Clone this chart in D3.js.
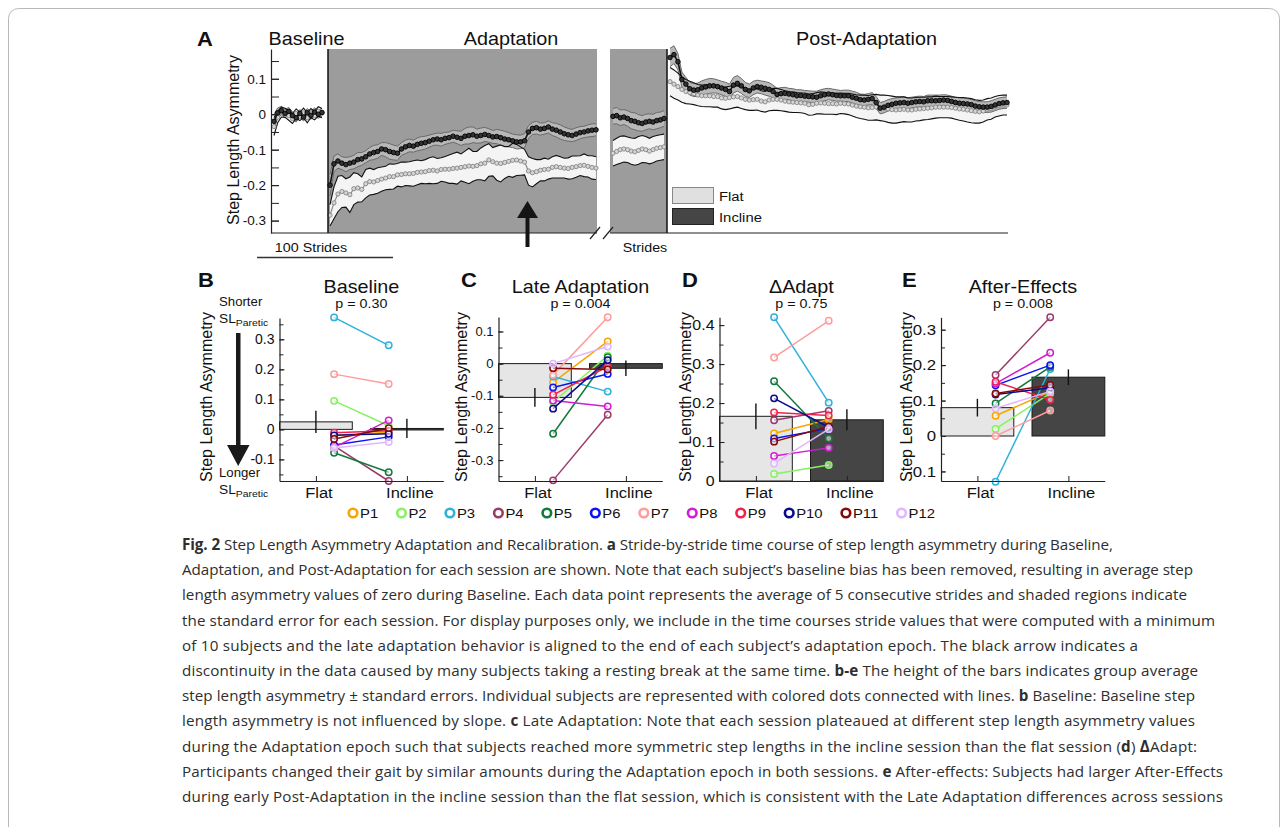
<!DOCTYPE html>
<html><head><meta charset="utf-8">
<script src="https://cdn.jsdelivr.net/npm/d3@7"></script>
<style>
body{margin:0;background:#fff}
svg{display:block}
text{font-family:"Liberation Sans",Arial,Helvetica,sans-serif;fill:#111}
.cap{font-family:"Open Sans","Noto Sans",sans-serif;fill:#2e2e2e}
</style>
</head><body>
<svg id="fig" width="1288" height="827"></svg>
<script>
// ---------------- DATA ----------------
// Panel A time courses (mean and standard error), each point = 5-stride average
const baseInc   = [-0.02,0.004,0.01,0.002,0.008,-0.004,-0.01,0.002,-0.008,0.004,-0.003,0.006,0.0,0.005];
const baseIncSE = [0.02,0.014,0.012,0.012,0.011,0.011,0.012,0.011,0.011,0.012,0.011,0.012,0.011,0.012];
const baseFlat  = [-0.035,-0.008,0.006,0.004,-0.004,-0.012,0.002,-0.006,0.004,-0.01,0.003,-0.004,0.008,0.003];
const baseFlatSE= [0.025,0.016,0.014,0.013,0.013,0.014,0.013,0.012,0.013,0.014,0.013,0.012,0.013,0.013];

const adaptInc = [-0.2,-0.14,-0.132,-0.138,-0.142,-0.138,-0.135,-0.128,-0.126,-0.12,
  -0.112,-0.108,-0.105,-0.098,-0.1,-0.105,-0.108,-0.11,-0.098,-0.092,
  -0.088,-0.09,-0.085,-0.082,-0.08,-0.076,-0.072,-0.07,-0.072,-0.068,
  -0.066,-0.062,-0.065,-0.068,-0.062,-0.06,-0.058,-0.062,-0.06,-0.057,
  -0.06,-0.064,-0.063,-0.066,-0.07,-0.072,-0.075,-0.078,-0.078,-0.075,
  -0.05,-0.04,-0.038,-0.042,-0.04,-0.036,-0.042,-0.045,-0.05,-0.055,
  -0.058,-0.06,-0.056,-0.052,-0.05,-0.047,-0.045,-0.044];
const adaptIncSE = [0.03,0.022,0.02,0.018,0.02,0.018,0.019,0.02,0.018,0.017,
  0.018,0.02,0.019,0.018,0.02,0.022,0.021,0.02,0.018,0.019,
  0.018,0.017,0.018,0.019,0.018,0.017,0.016,0.017,0.018,0.017,
  0.016,0.017,0.018,0.02,0.022,0.024,0.022,0.02,0.021,0.02,
  0.019,0.018,0.02,0.021,0.022,0.02,0.019,0.02,0.019,0.02,
  0.018,0.017,0.018,0.017,0.016,0.017,0.018,0.019,0.02,0.019,
  0.018,0.017,0.018,0.017,0.016,0.017,0.018,0.017];
const adaptFlat = [-0.285,-0.25,-0.225,-0.218,-0.222,-0.227,-0.21,-0.208,-0.212,-0.196,
  -0.19,-0.191,-0.187,-0.183,-0.18,-0.176,-0.176,-0.171,-0.17,-0.168,
  -0.168,-0.167,-0.164,-0.163,-0.162,-0.159,-0.158,-0.16,-0.156,-0.155,
  -0.155,-0.153,-0.152,-0.15,-0.148,-0.146,-0.147,-0.145,-0.14,-0.138,
  -0.129,-0.134,-0.138,-0.139,-0.136,-0.133,-0.13,-0.129,-0.132,-0.135,
  -0.16,-0.165,-0.162,-0.158,-0.156,-0.155,-0.15,-0.148,-0.15,-0.152,
  -0.153,-0.15,-0.148,-0.145,-0.144,-0.147,-0.15,-0.152];
const adaptFlatSE = [0.03,0.045,0.05,0.045,0.04,0.05,0.045,0.04,0.035,0.04,
  0.038,0.035,0.036,0.034,0.033,0.036,0.035,0.032,0.035,0.033,
  0.034,0.036,0.035,0.032,0.034,0.036,0.038,0.035,0.033,0.036,
  0.04,0.042,0.045,0.038,0.044,0.05,0.042,0.04,0.045,0.05,
  0.046,0.04,0.048,0.052,0.045,0.042,0.048,0.044,0.04,0.036,
  0.04,0.04,0.034,0.03,0.032,0.028,0.03,0.032,0.03,0.028,
  0.03,0.032,0.03,0.028,0.032,0.03,0.033,0.032];

const lateInc   = [-0.006,-0.004,-0.01,-0.008,-0.012,-0.018,-0.02,-0.024,-0.026,-0.022,-0.02,-0.022,-0.018,-0.016,-0.012];
const lateIncSE = [0.022,0.023,0.022,0.021,0.022,0.023,0.024,0.023,0.022,0.022,0.021,0.022,0.023,0.022,0.022];
const lateFlat  = [-0.11,-0.105,-0.1,-0.098,-0.1,-0.104,-0.106,-0.102,-0.098,-0.1,-0.104,-0.1,-0.096,-0.094,-0.092];
const lateFlatSE= [0.036,0.037,0.038,0.037,0.036,0.037,0.038,0.039,0.038,0.037,0.036,0.037,0.036,0.036,0.036];

const postInc = [0.16,0.168,0.148,0.098,0.085,0.072,0.068,0.069,0.074,0.077,
  0.08,0.08,0.078,0.074,0.07,0.064,0.082,0.087,0.08,0.07,
  0.066,0.074,0.078,0.076,0.073,0.07,0.064,0.056,0.058,0.059,
  0.057,0.055,0.052,0.053,0.051,0.05,0.049,0.048,0.052,0.055,
  0.057,0.055,0.053,0.052,0.052,0.052,0.048,0.045,0.041,0.04,
  0.042,0.044,0.033,0.017,0.02,0.025,0.028,0.031,0.032,0.033,
  0.031,0.033,0.035,0.036,0.035,0.038,0.038,0.038,0.039,0.04,
  0.039,0.036,0.033,0.031,0.03,0.029,0.027,0.023,0.021,0.02,
  0.02,0.022,0.026,0.03,0.032,0.033];
const postIncSE = [0.026,0.025,0.023,0.021,0.019,0.018,0.018,0.019,0.02,0.021,
  0.021,0.02,0.019,0.019,0.02,0.021,0.022,0.022,0.021,0.02,
  0.019,0.019,0.018,0.018,0.019,0.019,0.018,0.017,0.017,0.017,
  0.016,0.017,0.017,0.016,0.016,0.016,0.016,0.017,0.017,0.017,
  0.016,0.016,0.016,0.015,0.016,0.016,0.017,0.017,0.016,0.016,
  0.016,0.017,0.017,0.016,0.016,0.016,0.016,0.015,0.015,0.016,
  0.016,0.015,0.015,0.015,0.015,0.016,0.016,0.016,0.015,0.015,
  0.015,0.015,0.015,0.015,0.015,0.015,0.015,0.015,0.015,0.015,
  0.015,0.016,0.016,0.016,0.016,0.016];
const postFlat = [0.092,0.085,0.078,0.07,0.064,0.061,0.058,0.054,0.052,0.052,
  0.052,0.05,0.05,0.046,0.045,0.047,0.049,0.05,0.046,0.042,
  0.04,0.041,0.042,0.037,0.035,0.04,0.042,0.042,0.04,0.037,
  0.035,0.034,0.033,0.032,0.031,0.027,0.028,0.031,0.032,0.031,
  0.03,0.03,0.029,0.031,0.03,0.029,0.026,0.023,0.021,0.02,
  0.018,0.019,0.02,0.018,0.017,0.015,0.013,0.012,0.013,0.014,
  0.012,0.012,0.014,0.015,0.016,0.017,0.018,0.02,0.02,0.02,
  0.02,0.019,0.017,0.015,0.014,0.012,0.01,0.008,0.007,0.009,
  0.014,0.016,0.021,0.024,0.026,0.026];
const postFlatSE = [0.04,0.04,0.038,0.036,0.034,0.032,0.031,0.03,0.03,0.031,
  0.031,0.03,0.03,0.031,0.032,0.032,0.031,0.03,0.03,0.029,
  0.029,0.03,0.03,0.029,0.029,0.03,0.031,0.031,0.03,0.029,
  0.029,0.029,0.028,0.028,0.029,0.03,0.03,0.03,0.031,0.031,
  0.03,0.03,0.03,0.029,0.029,0.03,0.031,0.032,0.033,0.034,
  0.035,0.036,0.036,0.036,0.037,0.038,0.038,0.037,0.036,0.035,
  0.034,0.034,0.033,0.033,0.032,0.032,0.031,0.031,0.03,0.03,
  0.03,0.03,0.031,0.032,0.033,0.034,0.034,0.033,0.032,0.031,
  0.03,0.03,0.029,0.029,0.028,0.028];

const aTicks = [-0.3,-0.2,-0.1,0,0.1];

// Panels B-E: participants P1..P12
const participants = ['P1','P2','P3','P4','P5','P6','P7','P8','P9','P10','P11','P12'];
const pColors = ['#f7a600','#86f25e','#2fb1da','#9b3b6d','#137a3c','#0a14f0','#ff9c9c','#d21ed2','#f0204e','#0a0a8c','#840a0a','#e1b6ff'];
const sessions = ['Flat','Incline'];

const blFlat = [-0.02,0.095,0.373,-0.055,-0.078,-0.052,0.184,-0.06,-0.011,-0.02,-0.032,-0.062];
const blInc  = [-0.01,0.012,0.28,-0.172,-0.143,-0.025,0.151,0.03,-0.005,-0.015,0.004,-0.042];
const blMean = [0.025,0.003], blSE = [0.037,0.032], blTicks = [-0.1,0,0.1,0.2,0.3];

const laFlat = [-0.058,-0.12,-0.04,-0.363,-0.218,-0.074,-0.035,-0.115,-0.097,-0.14,-0.014,0.0];
const laInc  = [0.069,0.025,-0.087,-0.159,0.02,-0.032,0.144,-0.133,-0.009,0.011,-0.018,0.053];
const laMean = [-0.105,-0.0145], laSE = [0.029,0.024], laTicks = [-0.3,-0.2,-0.1,0,0.1];

const daFlat = [0.122,0.018,0.42,0.156,0.256,0.109,0.317,0.064,0.176,0.212,0.101,0.045];
const daInc  = [0.158,0.041,0.201,0.18,0.109,0.135,0.411,0.085,0.168,0.138,0.14,0.133];
const daMean = [0.166,0.157], daSE = [0.033,0.027], daTicks = [0,0.1,0.2,0.3,0.4];

const aeFlat = [0.057,0.02,-0.129,0.172,0.092,0.143,0.0,0.148,0.153,0.117,0.12,0.078];
const aeInc  = [0.125,0.12,0.189,0.335,0.195,0.2,0.072,0.235,0.102,0.136,0.144,0.126];
const aeMean = [0.08,0.166], aeSE = [0.025,0.022], aeTicks = [-0.1,0,0.1,0.2,0.3];

const captionLines = [
 [['Fig. 2',1],[' Step Length Asymmetry Adaptation and Recalibration. ',0],['a',1],[' Stride-by-stride time course of step length asymmetry during Baseline,',0]],
 [['Adaptation, and Post-Adaptation for each session are shown. Note that each subject\u2019s baseline bias has been removed, resulting in average step',0]],
 [['length asymmetry values of zero during Baseline. Each data point represents the average of 5 consecutive strides and shaded regions indicate',0]],
 [['the standard error for each session. For display purposes only, we include in the time courses stride values that were computed with a minimum',0]],
 [['of 10 subjects and the late adaptation behavior is aligned to the end of each subject\u2019s adaptation epoch. The black arrow indicates a',0]],
 [['discontinuity in the data caused by many subjects taking a resting break at the same time. ',0],['b-e',1],[' The height of the bars indicates group average',0]],
 [['step length asymmetry \u00b1 standard errors. Individual subjects are represented with colored dots connected with lines. ',0],['b',1],[' Baseline: Baseline step',0]],
 [['length asymmetry is not influenced by slope. ',0],['c',1],[' Late Adaptation: Note that each session plateaued at different step length asymmetry values',0]],
 [['during the Adaptation epoch such that subjects reached more symmetric step lengths in the incline session than the flat session (',0],['d',1],[') ',0],['\u0394',1],['Adapt:',0]],
 [['Participants changed their gait by similar amounts during the Adaptation epoch in both sessions. ',0],['e',1],[' After-effects: Subjects had larger After-Effects',0]],
 [['during early Post-Adaptation in the incline session than the flat session, which is consistent with the Late Adaptation differences across sessions',0]]
];
// layout: right end of each caption line in the reference
const captionEnds = [1113,1193,1187,1215,1138,1198,1195,1195,1197,1223,1223];

// ---------------- DRAWING ----------------
const SX = 1.1;
const svg = d3.select('#fig');
function stxt(parent, x, y, str, size, o = {}) {
  const g = parent.append('g').attr('transform', `translate(${x},${y}) scale(${o.sx ?? SX},1)`);
  const t = g.append('text').attr('text-anchor', o.anchor || 'middle')
    .style('font-size', size + 'px').style('font-weight', o.bold ? 'bold' : 'normal');
  if (str != null) t.text(str);
  return t;
}
const fmt = d => Math.abs(d) < 1e-9 ? '0' : String(Math.round(d * 100) / 100);

// frame
svg.append('rect').attr('x', 8.5).attr('y', 8.5).attr('width', 1271).attr('height', 870).attr('rx', 10)
  .attr('fill', 'none').attr('stroke', '#b8b8b8').attr('stroke-width', 1);

// ===== Panel A =====
const A = svg.append('g');
const yA = d3.scaleLinear().domain([-0.335, 0.184]).range([233, 49]);
const GRAY = '#9c9c9c';
A.append('rect').attr('x', 328).attr('y', 49).attr('width', 269).attr('height', 184).attr('fill', GRAY);
A.append('rect').attr('x', 610).attr('y', 49).attr('width', 57).attr('height', 184).attr('fill', GRAY);

const segs = [
  {inc: baseInc, incSE: baseIncSE, flat: baseFlat, flatSE: baseFlatSE, x0: 274, x1: 322},
  {inc: adaptInc, incSE: adaptIncSE, flat: adaptFlat, flatSE: adaptFlatSE, x0: 330, x1: 596},
  {inc: lateInc, incSE: lateIncSE, flat: lateFlat, flatSE: lateFlatSE, x0: 613, x1: 664},
  {inc: postInc, incSE: postIncSE, flat: postFlat, flatSE: postFlatSE, x0: 670, x1: 1007}
];
const mk = (m, se) => m.map((v, i) => { const s = se[Math.min(i, se.length - 1)]; return {i, m: v, lo: v - s, hi: v + s}; });
segs.forEach(s => {
  const F = mk(s.flat, s.flatSE), I = mk(s.inc, s.incSE);
  const xf = d3.scaleLinear().domain([0, F.length - 1]).range([s.x0, s.x1]);
  const xi = d3.scaleLinear().domain([0, I.length - 1]).range([s.x0, s.x1]);
  const area = xs => d3.area().x(d => xs(d.i)).y0(d => yA(d.lo)).y1(d => yA(d.hi));
  const line = (xs, k) => d3.line().x(d => xs(d.i)).y(d => yA(d[k]));
  A.append('path').attr('d', area(xf)(F)).attr('fill', '#f4f4f4');
  A.append('path').attr('d', area(xi)(I)).attr('fill', '#b8b8b8');
  ['lo', 'hi'].forEach(k => A.append('path').attr('d', line(xi, k)(I)).attr('fill', 'none').attr('stroke', '#6a6a6a').attr('stroke-width', 1));
  ['lo', 'hi'].forEach(k => A.append('path').attr('d', line(xf, k)(F)).attr('fill', 'none').attr('stroke', '#111').attr('stroke-width', 1.1));
  A.append('path').attr('d', line(xf, 'm')(F)).attr('fill', 'none').attr('stroke', '#8a8a8a').attr('stroke-width', 1.2);
  A.append('g').selectAll('circle').data(F).join('circle').attr('cx', d => xf(d.i)).attr('cy', d => yA(d.m)).attr('r', 2.1)
    .attr('fill', '#d6d6d6').attr('stroke', '#858585').attr('stroke-width', 0.9);
  A.append('path').attr('d', line(xi, 'm')(I)).attr('fill', 'none').attr('stroke', '#111').attr('stroke-width', 1.6);
  A.append('g').selectAll('circle').data(I).join('circle').attr('cx', d => xi(d.i)).attr('cy', d => yA(d.m)).attr('r', 2.3)
    .attr('fill', '#333').attr('stroke', '#000').attr('stroke-width', 0.9);
});
// epoch boundaries
[328, 667].forEach(x => A.append('line').attr('x1', x).attr('x2', x).attr('y1', 49).attr('y2', 233).attr('stroke', '#111').attr('stroke-width', 1.5));
// y axis A
const minorA = d3.range(-6, 4).map(k => k * 0.05);
A.append('g').attr('transform', 'translate(271,0)')
  .call(d3.axisLeft(yA).tickValues(minorA).tickSize(-8).tickFormat(''))
  .call(g => g.select('.domain').remove()).selectAll('line').attr('stroke', '#222');
const axA = A.append('g').attr('transform', 'translate(271,0)')
  .call(d3.axisLeft(yA).tickValues(aTicks).tickSizeInner(-8).tickSizeOuter(0).tickPadding(5).tickFormat(fmt));
axA.select('.domain').attr('stroke', '#222').attr('stroke-width', 1.2);
axA.selectAll('line').attr('stroke', '#222');
axA.selectAll('text').style('font-size', '13.5px').attr('fill', '#111');
// x baseline with break
A.append('line').attr('x1', 271).attr('x2', 597).attr('y1', 233).attr('y2', 233).attr('stroke', '#222').attr('stroke-width', 1.2);
A.append('line').attr('x1', 610).attr('x2', 1008).attr('y1', 233).attr('y2', 233).attr('stroke', '#222').attr('stroke-width', 1.2);
[[590, 600], [603, 613]].forEach(([a, b]) => A.append('line').attr('x1', a).attr('y1', 239).attr('x2', b).attr('y2', 227).attr('stroke', '#222').attr('stroke-width', 1.2));
// headings
stxt(A, 306.5, 45, 'Baseline', 18);
stxt(A, 511, 45, 'Adaptation', 18);
stxt(A, 866.5, 45, 'Post-Adaptation', 18);
stxt(A, 197, 46, 'A', 20, {anchor: 'start', bold: true});
A.append('text').attr('transform', 'translate(233,140) rotate(-90)').attr('text-anchor', 'middle')
  .attr('dominant-baseline', 'central').style('font-size', '16px').text('Step Length Asymmetry');
// 100 strides scale bar and strides label
stxt(A, 311, 252, '100 Strides', 13);
A.append('line').attr('x1', 257).attr('x2', 393).attr('y1', 257.5).attr('y2', 257.5).attr('stroke', '#333').attr('stroke-width', 1.5);
stxt(A, 645, 252, 'Strides', 13);
// break arrow
A.append('rect').attr('x', 525.5).attr('y', 216).attr('width', 4).attr('height', 31).attr('fill', '#151515');
A.append('path').attr('d', 'M517,218 L538,218 L527.5,201 Z').attr('fill', '#151515');
// legend A
A.append('rect').attr('x', 672.5).attr('y', 187.5).attr('width', 41).attr('height', 16).attr('fill', '#e0e0e0').attr('stroke', '#888');
A.append('rect').attr('x', 672.5).attr('y', 208.5).attr('width', 41).attr('height', 16).attr('fill', '#454545').attr('stroke', '#222');
stxt(A, 719, 201, sessions[0], 13.5, {anchor: 'start'});
stxt(A, 719, 222, sessions[1], 13.5, {anchor: 'start'});

// ===== Panels B-E =====
const panels = [
  {letter: 'B', lx: 198, title: 'Baseline', p: 'p = 0.30', flat: blFlat, inc: blInc, mean: blMean, se: blSE, ticks: blTicks, dom: [-0.172, 0.371], left: 279.5, top: 318, ylx: 206, tfs: 14, tsx: 1},
  {letter: 'C', lx: 461, title: 'Late Adaptation', p: 'p = 0.004', flat: laFlat, inc: laInc, mean: laMean, se: laSE, ticks: laTicks, dom: [-0.365, 0.145], left: 498.5, top: 317, ylx: 461, tfs: 13, tsx: 1},
  {letter: 'D', lx: 682, title: '\u0394Adapt', p: 'p = 0.75', flat: daFlat, inc: daInc, mean: daMean, se: daSE, ticks: daTicks, dom: [0, 0.42], left: 719.5, top: 317.3, ylx: 685, tfs: 14.5, tsx: 1.1},
  {letter: 'E', lx: 902, title: 'After-Effects', p: 'p = 0.008', flat: aeFlat, inc: aeInc, mean: aeMean, se: aeSE, ticks: aeTicks, dom: [-0.127, 0.335], left: 941, top: 317.3, ylx: 906, tfs: 15, tsx: 1.12}
];
const BOT = 481, UNIT = 91;
panels.forEach(P => {
  const g = svg.append('g');
  const x = d3.scaleLinear().domain([0.6, 2.4]).range([P.left, P.left + 1.8 * UNIT]);
  const y = d3.scaleLinear().domain(P.dom).range([BOT, P.top]);
  const cx = (P.left + P.left + 1.8 * UNIT) / 2;
  const fills = ['#e6e6e6', '#454545'];
  P.mean.forEach((m, k) => {
    g.append('rect').attr('x', x(k + 0.6)).attr('width', x(k + 1.4) - x(k + 0.6))
      .attr('y', Math.min(y(m), y(0))).attr('height', Math.max(1.5, Math.abs(y(m) - y(0))))
      .attr('fill', fills[k]).attr('stroke', '#1a1a1a').attr('stroke-width', 1);
  });
  P.mean.forEach((m, k) => {
    g.append('line').attr('x1', x(k + 1)).attr('x2', x(k + 1)).attr('y1', y(m - P.se[k])).attr('y2', y(m + P.se[k]))
      .attr('stroke', '#111').attr('stroke-width', 1.4);
  });
  participants.forEach((pp, j) => {
    const c = pColors[j];
    g.append('line').attr('x1', x(1.2)).attr('y1', y(P.flat[j])).attr('x2', x(1.8)).attr('y2', y(P.inc[j]))
      .attr('stroke', c).attr('stroke-width', 1.5);
    [[1.2, P.flat[j]], [1.8, P.inc[j]]].forEach(([xx, v]) => g.append('circle').attr('cx', x(xx)).attr('cy', y(v)).attr('r', 3.2)
      .attr('fill', '#fff').attr('fill-opacity', 0.55).attr('stroke', c).attr('stroke-width', 1.5));
  });
  const lo = Math.ceil(P.dom[0] / 0.05 - 1e-9), hi = Math.floor(P.dom[1] / 0.05 + 1e-9);
  const minor = d3.range(lo, hi + 1).map(k => k * 0.05);
  g.append('g').attr('transform', `translate(${P.left},0)`)
    .call(d3.axisLeft(y).tickValues(minor).tickSize(-4).tickFormat(''))
    .call(s => s.select('.domain').remove()).selectAll('line').attr('stroke', '#222');
  const ay = g.append('g').attr('transform', `translate(${P.left},0)`)
    .call(d3.axisLeft(y).tickValues(P.ticks).tickSizeInner(-5).tickSizeOuter(0).tickPadding(5).tickFormat(fmt));
  ay.select('.domain').attr('stroke', '#222').attr('stroke-width', 1.2);
  ay.selectAll('line').attr('stroke', '#222');
  ay.selectAll('text').style('font-size', P.tfs + 'px').attr('fill', '#111')
    .attr('transform', `translate(-5,0) scale(${P.tsx},1) translate(5,0)`);
  const ax = g.append('g').attr('transform', `translate(0,${BOT})`)
    .call(d3.axisBottom(x).tickValues([1, 2]).tickSizeInner(-5).tickSizeOuter(0).tickFormat(''));
  ax.select('.domain').attr('stroke', '#222').attr('stroke-width', 1.2);
  ax.selectAll('line').attr('stroke', '#222');
  sessions.forEach((s, k) => stxt(g, x(k + 1) + 3, 498, s, 15));
  stxt(g, cx, 293, P.title, 18);
  stxt(g, cx, 308, P.p, 13);
  stxt(g, P.lx, 287, P.letter, 20, {anchor: 'start', bold: true});
  g.append('text').attr('transform', `translate(${P.ylx},397) rotate(-90)`).attr('text-anchor', 'middle')
    .attr('dominant-baseline', 'central').style('font-size', '16px').text('Step Length Asymmetry');
});
// Panel B side annotation
const ann = svg.append('g');
stxt(ann, 219, 306, 'Shorter', 12, {anchor: 'start'});
const sl1 = stxt(ann, 219, 323, null, 12.5, {anchor: 'start'});
sl1.append('tspan').text('SL'); sl1.append('tspan').attr('dy', 3).style('font-size', '9.5px').text('Paretic');
stxt(ann, 219, 477, 'Longer', 12, {anchor: 'start'});
const sl2 = stxt(ann, 219, 494, null, 12.5, {anchor: 'start'});
sl2.append('tspan').text('SL'); sl2.append('tspan').attr('dy', 3).style('font-size', '9.5px').text('Paretic');
ann.append('rect').attr('x', 236).attr('y', 333).attr('width', 4.5).attr('height', 114).attr('fill', '#1a1a1a');
ann.append('path').attr('d', 'M227,445 L249.5,445 L238.2,466 Z').attr('fill', '#1a1a1a');

// participant legend
const leg = svg.append('g');
let lxPos = 353;
participants.forEach((pp, j) => {
  leg.append('circle').attr('cx', lxPos).attr('cy', 513).attr('r', 4.3).attr('fill', '#fff').attr('stroke', pColors[j]).attr('stroke-width', 2.6);
  const t = stxt(leg, lxPos + 7, 518, pp, 13.5, {anchor: 'start'});
  const w = t.node().getComputedTextLength() * SX;
  lxPos += 7 + w + 23.3;
});

// caption
const cap = svg.append('g');
captionLines.forEach((ln, i) => {
  const t = cap.append('text').attr('class', 'cap').attr('x', 182).attr('y', 550 + i * 25.2)
    .style('font-size', '15.2px').style('white-space', 'pre')
    .attr('textLength', captionEnds[i] - 182).attr('lengthAdjust', 'spacing');
  ln.forEach(([s, b]) => t.append('tspan').style('font-weight', b ? 'bold' : 'normal').text(s));
});
</script>
</body></html>
